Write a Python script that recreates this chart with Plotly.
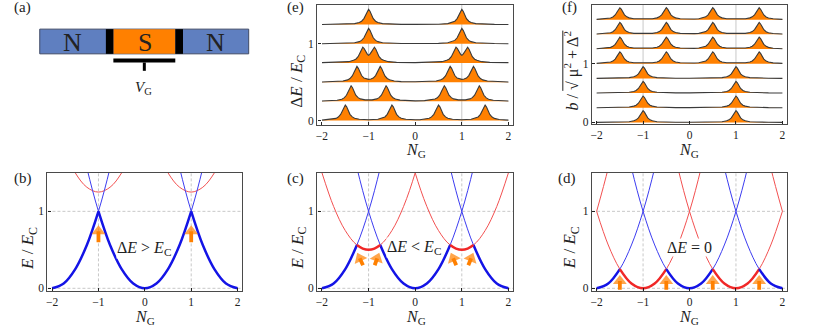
import numpy as np
import plotly.graph_objects as go

W, H = 830, 327
FONT = "Liberation Serif"

# ---- data ----
NG = [-2, -1.75, -1.5, -1.25, -1, -0.75, -0.5, -0.25, 0, 0.25, 0.5, 0.75, 1, 1.25, 1.5, 1.75, 2]
BLUE_C0  = [4, 3.063, 2.25, 1.563, 1, 0.563, 0.25, 0.063, 0, 0.063, 0.25, 0.563, 1, 1.563, 2.25, 3.063, 4]
BLUE_CM2 = [0, 0.063, 0.25, 0.563, 1, 1.563, 2.25, 3.063, 4, 5, 6, 7, 8, 9, 10, 11, 12]
BLUE_CP2 = BLUE_CM2[::-1]
RED_CM1  = [1, 0.563, 0.25, 0.063, 0, 0.063, 0.25, 0.563, 1, 1.563, 2.25, 3.063, 4, 5, 6, 7, 8]
RED_CP1  = RED_CM1[::-1]
RED_CM3  = [1, 1.563, 2.25, 3.063, 4, 5, 6, 7, 8, 9, 10, 11, 12, 13, 14, 15, 16]
RED_CP3  = RED_CM3[::-1]
RED_OFFSET_B, RED_OFFSET_C, RED_OFFSET_D = 1.25, 0.5, 0.0

BOLD_C_RED_X = [-1.25, -1.125, -1, -0.875, -0.75]
BOLD_C_RED_Y = [0.563, 0.516, 0.5, 0.516, 0.563]

# right-hand halves of the peak rows (mirrored for N_G < 0): height above baseline
P0_X = [0, 0.3, 0.5, 0.7, 0.8, 0.85, 0.9, 0.94, 0.97, 1, 1.03, 1.06, 1.1, 1.15, 1.2, 1.3, 1.5, 1.7, 2]
P0_Y = [0.003, 0.003, 0.005, 0.013, 0.028, 0.044, 0.078, 0.128, 0.175, 0.2, 0.175, 0.128, 0.078, 0.044, 0.028, 0.013, 0.005, 0.003, 0.001]
P125_X = [0, 0.4, 0.575, 0.675, 0.725, 0.775, 0.815, 0.845, 0.875, 0.905, 0.935, 0.975, 1, 1.025, 1.065, 1.095, 1.125, 1.155, 1.185, 1.225, 1.275, 1.325, 1.425, 1.6, 2]
P125_Y = [0.004, 0.008, 0.017, 0.034, 0.049, 0.082, 0.132, 0.178, 0.205, 0.186, 0.148, 0.112, 0.1, 0.112, 0.148, 0.186, 0.205, 0.178, 0.132, 0.082, 0.049, 0.034, 0.017, 0.008, 0.004]
P25_X = [0, 0.3, 0.45, 0.55, 0.6, 0.65, 0.69, 0.72, 0.75, 0.78, 0.81, 0.85, 0.9, 0.95, 1, 1.05, 1.1, 1.15, 1.19, 1.22, 1.25, 1.28, 1.31, 1.35, 1.4, 1.45, 1.55, 1.75, 2]
P25_Y = [0.005, 0.007, 0.015, 0.031, 0.048, 0.082, 0.132, 0.179, 0.205, 0.18, 0.134, 0.086, 0.053, 0.041, 0.037, 0.041, 0.053, 0.086, 0.134, 0.18, 0.205, 0.178, 0.131, 0.081, 0.047, 0.03, 0.015, 0.006, 0.003]
P375_X = [0, 0.2, 0.325, 0.425, 0.475, 0.525, 0.565, 0.595, 0.625, 0.655, 0.685, 0.725, 0.775, 0.825, 0.925, 1, 1.075, 1.175, 1.225, 1.275, 1.315, 1.345, 1.375, 1.405, 1.435, 1.475, 1.525, 1.575, 1.675, 1.8, 2]
P375_Y = [0.006, 0.01, 0.016, 0.03, 0.047, 0.081, 0.131, 0.178, 0.203, 0.178, 0.131, 0.081, 0.048, 0.032, 0.019, 0.018, 0.019, 0.032, 0.048, 0.081, 0.131, 0.178, 0.203, 0.176, 0.129, 0.079, 0.045, 0.028, 0.014, 0.007, 0.004]
P50_X = [0, 0.1, 0.2, 0.3, 0.35, 0.4, 0.44, 0.47, 0.5, 0.53, 0.56, 0.6, 0.65, 0.7, 0.8, 1, 1.2, 1.3, 1.35, 1.4, 1.44, 1.47, 1.5, 1.53, 1.56, 1.6, 1.65, 1.7, 1.8, 2]
P50_Y = [0.01, 0.011, 0.016, 0.03, 0.047, 0.081, 0.131, 0.178, 0.203, 0.178, 0.131, 0.081, 0.047, 0.03, 0.016, 0.01, 0.016, 0.03, 0.047, 0.081, 0.131, 0.178, 0.202, 0.176, 0.129, 0.079, 0.045, 0.028, 0.014, 0.005]

E_BASE = [0, 0.25, 0.5, 0.75, 1, 1.25]
E_ROWS = [(P50_X, P50_Y), (P375_X, P375_Y), (P25_X, P25_Y), (P125_X, P125_Y), (P0_X, P0_Y), (P0_X, P0_Y)]
F_BASE = [0, 0.25, 0.5, 0.75, 1, 1.25, 1.5, 1.75]
F_ROWS = [(P0_X, P0_Y)] * 4 + [(P50_X, P50_Y)] * 4

XTICKS = [-2, -1, 0, 1, 2]
# arrows: tail x, tail y, head x, head y
ARROWS_B = [(-1, 0.6, -1, 0.74), (1, 0.6, 1, 0.74)]
ARROWS_C = [(-1.12, 0.3, -1.19, 0.39), (-0.87, 0.3, -0.815, 0.39), (0.88, 0.3, 0.815, 0.39), (1.14, 0.3, 1.2, 0.39)]
ARROWS_D = [(-1.5, -0.02, -1.5, 0.095), (-0.5, -0.02, -0.5, 0.095), (0.5, -0.02, 0.5, 0.095), (1.5, -0.02, 1.5, 0.095)]

# ---- styles / layout ----
BLUE, RED, ORANGE = "#1414E6", "#F02828", "#FF8000"
THIN_BLUE, THIN_RED = "#3C3CF0", "#F25050"
FRAME = "#4a4a4a"
GRID = "#c8c8c8"

def px(x): return x / W
def py(y): return 1 - y / H

fig = go.Figure()
layout = dict(width=W, height=H, margin=dict(l=0, r=0, t=0, b=0), paper_bgcolor="white",
              plot_bgcolor="white", showlegend=False, font=dict(family=FONT, size=11, color="#222"))
shapes, annos = [], []

PANELS = {
    "b": dict(n=1, box=(46.5, 241.5, 175, 295), yr=[-0.04, 1.5], yt=[0, 1], dashed=True),
    "c": dict(n=2, box=(316.7, 512.7, 175, 295), yr=[-0.04, 1.5], yt=[0, 1], dashed=True),
    "d": dict(n=3, box=(591.7, 787, 175, 295), yr=[-0.04, 1.5], yt=[0, 1], dashed=True),
    "e": dict(n=4, box=(316.7, 512.7, 5, 126.7), yr=[-0.06, 1.506], yt=[0, 1], dashed=False),
    "f": dict(n=5, box=(591.7, 787, 5, 126), yr=[-0.034, 2.0], yt=[0, 1, 2], dashed=False),
}

for name, p in PANELS.items():
    n = p["n"]
    x0, x1, y0, y1 = p["box"]
    sfx = "" if n == 1 else str(n)
    common = dict(showgrid=False, zeroline=False, showline=True, mirror=True, linecolor=FRAME, linewidth=1.4,
                  ticks="inside", ticklen=3, tickwidth=1, tickcolor="#222",
                  tickfont=dict(family=FONT, size=11.5, color="#222"))
    layout["xaxis" + sfx] = dict(common, domain=[px(x0), px(x1)], range=[-2.1, 2.1], tickvals=XTICKS,
                                 anchor="y" + sfx)
    layout["yaxis" + sfx] = dict(common, domain=[py(y1), py(y0)], range=p["yr"], tickvals=p["yt"],
                                 anchor="x" + sfx)
    xa, ya = "x" + sfx, "y" + sfx
    p["xa"], p["ya"] = xa, ya
    for gx in (-1, 1):
        shapes.append(dict(type="line", xref=xa, yref=ya, x0=gx, x1=gx, y0=p["yr"][0], y1=p["yr"][1], layer="below",
                           line=dict(color=GRID, width=1, dash="3px,2px" if p["dashed"] else "solid")))
    if p["dashed"]:
        for gy in (0, 1):
            shapes.append(dict(type="line", xref=xa, yref=ya, x0=-2.1, x1=2.1, y0=gy, y1=gy, layer="below",
                               line=dict(color=GRID, width=1, dash="3px,2px")))

def curve(p, x, y, color, width):
    fig.add_trace(go.Scatter(x=x, y=y, mode="lines", xaxis=p["xa"], yaxis=p["ya"], hoverinfo="skip",
                             line=dict(color=color, width=width, shape="spline", smoothing=1)))

def seg(vals, lo, hi, off=0.0):
    xs = np.array(NG)
    m = (xs >= lo) & (xs <= hi)
    return xs[m], np.array(vals)[m] + off

def thin(p, off, reds):
    for r in reds:
        curve(p, NG, list(np.array(r) + off), THIN_RED, 1)
    for b in (BLUE_CM2, BLUE_C0, BLUE_CP2):
        curve(p, NG, b, THIN_BLUE, 1)

def bold(p, segs):
    for vals, lo, hi, off, col in segs:
        curve(p, *seg(vals, lo, hi, off), col, 2.5)

pb, pc, pd_ = PANELS["b"], PANELS["c"], PANELS["d"]
thin(pb, RED_OFFSET_B, (RED_CM1, RED_CP1))
bold(pb, [(BLUE_CM2, -2, -1, 0, BLUE), (BLUE_C0, -1, 1, 0, BLUE), (BLUE_CP2, 1, 2, 0, BLUE)])

thin(pc, RED_OFFSET_C, (RED_CM1, RED_CP1))
bold(pc, [(BLUE_CM2, -2, -1.25, 0, BLUE), (BLUE_C0, -0.75, 0.75, 0, BLUE), (BLUE_CP2, 1.25, 2, 0, BLUE)])
curve(pc, BOLD_C_RED_X, BOLD_C_RED_Y, RED, 2.5)
curve(pc, [-v for v in BOLD_C_RED_X], BOLD_C_RED_Y, RED, 2.5)

thin(pd_, RED_OFFSET_D, (RED_CM1, RED_CP1, RED_CM3, RED_CP3))
bold(pd_, [(BLUE_CM2, -2, -1.5, 0, BLUE), (RED_CM1, -1.5, -0.5, 0, RED), (BLUE_C0, -0.5, 0.5, 0, BLUE),
           (RED_CP1, 0.5, 1.5, 0, RED), (BLUE_CP2, 1.5, 2, 0, BLUE)])

def rows(p, bases, profiles):
    for base, (hx, hy) in zip(bases, profiles):
        x = [-v for v in reversed(hx)] + list(hx)
        y = [base + v for v in reversed(hy)] + [base + v for v in hy]
        fig.add_trace(go.Scatter(x=[x[0], x[-1]], y=[base, base], mode="lines", xaxis=p["xa"], yaxis=p["ya"],
                                 line=dict(width=0, color=ORANGE), hoverinfo="skip"))
        fig.add_trace(go.Scatter(x=x, y=y, mode="lines", xaxis=p["xa"], yaxis=p["ya"], fill="tonexty",
                                 fillcolor=ORANGE, line=dict(color="#3a3a3a", width=1.1), hoverinfo="skip"))

rows(PANELS["e"], E_BASE, E_ROWS)
rows(PANELS["f"], F_BASE, F_ROWS)

def arrows(p, lst):
    for ax, ay, tx, ty in lst:
        fig.add_trace(go.Scatter(x=[ax, tx], y=[ay, ty], mode="lines+markers", xaxis=p["xa"], yaxis=p["ya"],
                                 hoverinfo="skip", line=dict(color=ORANGE, width=3.8),
                                 marker=dict(symbol=["circle", "triangle-up"], size=[0, 12], color=ORANGE,
                                             angleref="previous", line=dict(width=0))))

arrows(pb, ARROWS_B); arrows(pc, ARROWS_C); arrows(pd_, ARROWS_D)

# ---- panel (a) schematic ----
def rect(x0, x1, y0, y1, fill, line=None):
    shapes.append(dict(type="rect", xref="paper", yref="paper", x0=px(x0), x1=px(x1), y0=py(y1), y1=py(y0),
                       fillcolor=fill, line=dict(color=line or fill, width=1 if line else 0)))

rect(38.8, 248, 29.5, 54.5, "#5F7FC0", "#3f4a66")
rect(112.5, 174.5, 29.5, 54.5, ORANGE)
rect(105, 112.5, 29.5, 54.5, "black")
rect(174.5, 182.2, 29.5, 54.5, "black")
rect(112.5, 174.5, 59.3, 63.3, "black")
rect(142, 145, 63.3, 71.7, "black")

def label(x, y, text, size, angle=0, bg=None):
    annos.append(dict(xref="paper", yref="paper", x=px(x), y=py(y), text=text, showarrow=False, textangle=angle,
                      xanchor="center", yanchor="middle", font=dict(family=FONT, size=size, color="#222"),
                      bgcolor=bg, borderpad=0))

label(72, 43, "N", 26); label(144, 43, "S", 26); label(215, 43, "N", 26)
label(143, 89, "<i>V</i><sub>G</sub>", 15)
for t, x, y in [("(a)", 22, 8), ("(b)", 22, 181), ("(c)", 295, 181), ("(d)", 567, 181), ("(e)", 295, 8), ("(f)", 569, 8)]:
    label(x, y, t, 15)

NGT = "<i>N</i><sub>G</sub>"
for x, y in [(144, 321), (416, 321), (689, 321), (416, 152), (689, 152)]:
    label(x, y, NGT, 16)
EEC = "<i>E</i> / <i>E</i><sub>C</sub>"
label(28, 251, EEC, 17, -90)
label(298, 251, EEC, 17, -90)
label(571, 251, EEC, 17, -90)
label(297, 82, "Δ<i>E</i> / <i>E</i><sub>C</sub>", 17, -90)
label(571, 72, "<i>b</i> / √ μ<sup>2</sup> + Δ<sup>2</sup>", 16, -90)
shapes.append(dict(type="line", xref="paper", yref="paper", x0=px(562.5), x1=px(562.5), y0=py(31), y1=py(92),
                   line=dict(color="#222", width=1)))

label(143, 252, "Δ<i>E</i> &gt; <i>E</i><sub>C</sub>", 16, bg="white")
label(413, 251, "Δ<i>E</i> &lt; <i>E</i><sub>C</sub>", 16, bg="white")
label(689, 251, "Δ<i>E</i> = 0", 16, bg="white")

layout["shapes"] = shapes
layout["annotations"] = annos
fig.update_layout(**layout)
fig.write_html("out.html", post_script="document.body.style.margin='0';document.body.style.overflow='hidden';",
               config={"displayModeBar": False})
